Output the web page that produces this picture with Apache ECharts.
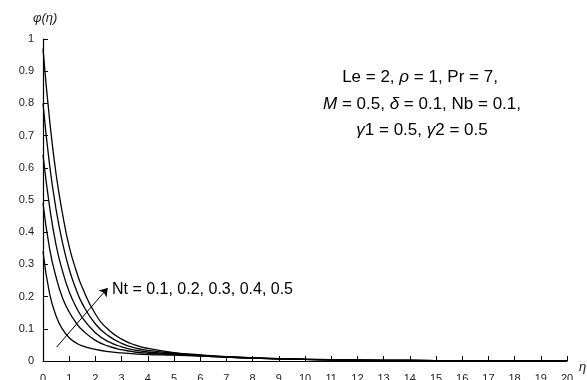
<!DOCTYPE html>
<html>
<head>
<meta charset="utf-8">
<script src="https://cdn.jsdelivr.net/npm/echarts@6/dist/echarts.min.js"></script>
<style>
  html, body { margin: 0; padding: 0; background: #fff; }
  #chart { width: 587px; height: 380px; }
</style>
</head>
<body>
<div id="chart"></div>
<script>
// eta grid and concentration profiles phi(eta) for Nt = 0.1 .. 0.5
const eta = [0, 0.25, 0.5, 0.75, 1, 1.25, 1.5, 2, 2.5, 3, 3.5, 4, 5, 6, 7, 8, 10, 12, 14, 16, 18, 20]
const phiNt01 = [0.34, 0.21, 0.14, 0.098, 0.072, 0.057, 0.047, 0.036, 0.029, 0.025, 0.022, 0.02, 0.018, 0.015, 0.012, 0.009, 0.005, 0.0028, 0.0015, 0.0008, 0.0003, 0]
const phiNt02 = [0.49, 0.35, 0.26, 0.195, 0.152, 0.12, 0.096, 0.064, 0.046, 0.035, 0.028, 0.024, 0.02, 0.016, 0.012, 0.009, 0.005, 0.0028, 0.0015, 0.0008, 0.0003, 0]
const phiNt03 = [0.64, 0.48, 0.36, 0.278, 0.215, 0.17, 0.135, 0.088, 0.06, 0.044, 0.034, 0.028, 0.022, 0.017, 0.0125, 0.009, 0.005, 0.0028, 0.0015, 0.0008, 0.0003, 0]
const phiNt04 = [0.8, 0.61, 0.47, 0.365, 0.285, 0.225, 0.178, 0.115, 0.078, 0.055, 0.041, 0.033, 0.024, 0.018, 0.013, 0.0095, 0.0052, 0.0028, 0.0015, 0.0008, 0.0003, 0]
const phiNt05 = [0.97, 0.75, 0.58, 0.455, 0.355, 0.285, 0.228, 0.146, 0.097, 0.068, 0.05, 0.039, 0.026, 0.019, 0.0135, 0.0098, 0.0054, 0.0029, 0.0016, 0.0009, 0.0003, 0]
const curves = [phiNt01, phiNt02, phiNt03, phiNt04, phiNt05]

// arrow through the curves (data coords)
const arrowFrom = [0.52, 0.043]
const arrowTo = [2.47, 0.227]

const font = '"Liberation Sans", Arial, sans-serif'
let chart = echarts.init(document.getElementById('chart'))

const pairs = (ys) => eta.map((x, i) => [x, ys[i]])

let series = curves.map((c) => ({
  type: 'line',
  data: pairs(c),
  smooth: true,
  symbol: 'none',
  lineStyle: { color: '#000', width: 1.3 },
  animation: false
}))

series[0].markLine = {
  silent: true,
  symbol: ['none', 'arrow'],
  symbolSize: 8,
  lineStyle: { color: '#000', width: 1, type: 'solid' },
  label: { show: false },
  data: [[{ coord: arrowFrom }, { coord: arrowTo }]]
}

const richItalic = { i: { fontStyle: 'italic', fontSize: 17, fontFamily: font } }
const note = (x, y, text) => ({
  type: 'text',
  x: x,
  y: y,
  style: {
    text: text,
    font: '17px ' + font,
    fill: '#000',
    align: 'center',
    verticalAlign: 'middle',
    rich: richItalic
  }
})

let option = {
  animation: false,
  grid: { left: 43, right: 20, top: 39, bottom: 19, outerBoundsMode: 'none', containLabel: false },
  xAxis: {
    type: 'value',
    min: 0,
    max: 20,
    interval: 1,
    name: 'η',
    nameGap: 8,
    nameTextStyle: { fontFamily: font, fontSize: 13, fontStyle: 'italic', color: '#222', verticalAlign: 'top' },
    axisLine: { lineStyle: { color: '#000', width: 1.2 } },
    axisTick: { inside: true, length: 5, lineStyle: { color: '#000' } },
    axisLabel: { fontFamily: font, fontSize: 11, color: '#222', margin: 12 },
    splitLine: { show: false }
  },
  yAxis: {
    type: 'value',
    min: 0,
    max: 1,
    interval: 0.1,
    name: 'φ(η)',
    nameGap: 14,
    nameTextStyle: { fontFamily: font, fontSize: 13, fontStyle: 'italic', color: '#222', align: 'left', padding: [0, 0, 0, -10] },
    axisLine: { show: true, lineStyle: { color: '#000', width: 1.2 } },
    axisTick: { show: true, inside: true, length: 5, lineStyle: { color: '#000' } },
    axisLabel: { fontFamily: font, fontSize: 11, color: '#222', margin: 9 },
    splitLine: { show: false }
  },
  graphic: [
    note(420, 77, 'Le = 2, {i|ρ} = 1, Pr = 7,'),
    note(422, 104, '{i|M} = 0.5, {i|δ} = 0.1, Nb = 0.1,'),
    note(422, 130, '{i|γ}1 = 0.5, {i|γ}2 = 0.5'),
    {
      type: 'text',
      x: 112,
      y: 290,
      style: {
        text: 'Nt = 0.1, 0.2, 0.3, 0.4, 0.5',
        font: '16px ' + font,
        fill: '#000',
        align: 'left',
        verticalAlign: 'middle'
      }
    }
  ],
  series: series
}

chart.setOption(option)
</script>
</body>
</html>
